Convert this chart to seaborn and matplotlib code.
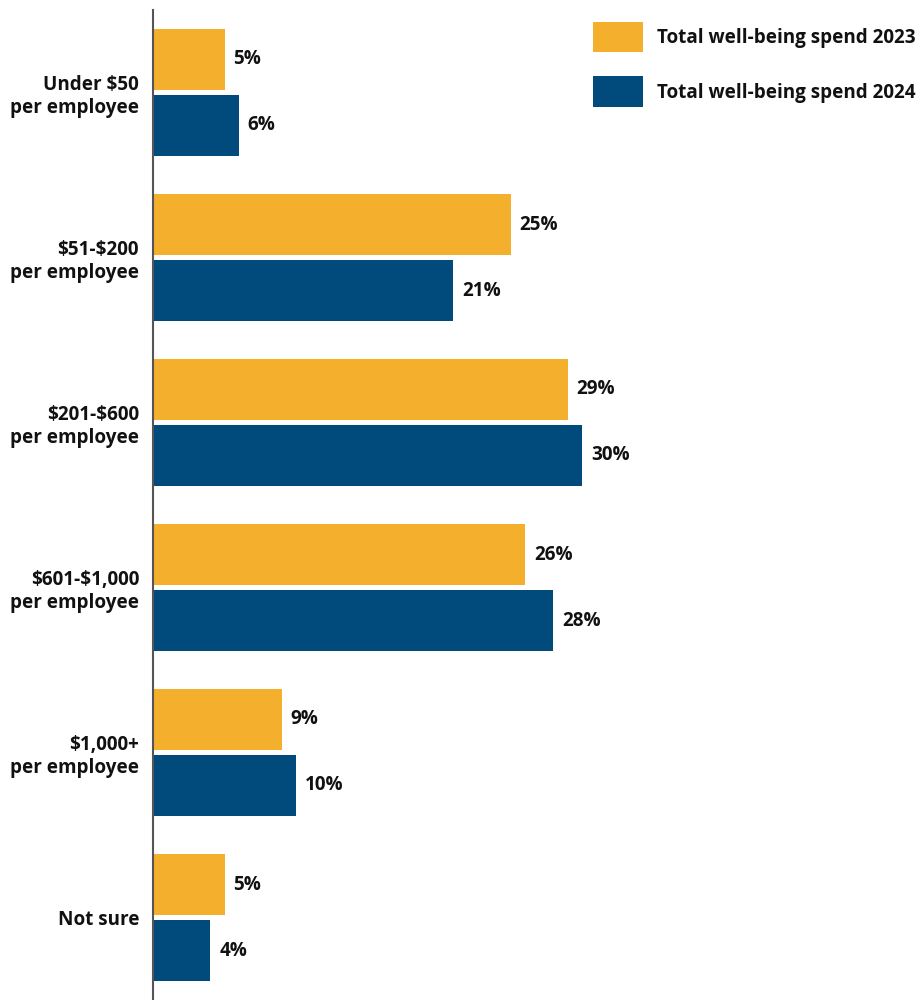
import pandas as pd
import matplotlib.pyplot as plt
import seaborn as sns
from matplotlib.patches import Patch

# ===================== DATA =====================
categories = [
    "Under $50\nper employee",
    "$51-$200\nper employee",
    "$201-$600\nper employee",
    "$601-$1,000\nper employee",
    "$1,000+\nper employee",
    "Not sure",
]
spend_2023 = [5, 25, 29, 26, 9, 5]
spend_2024 = [6, 21, 30, 28, 10, 4]
series_names = ["Total well-being spend 2023", "Total well-being spend 2024"]
colors = ["#F4AF2D", "#004A7C"]

df = pd.DataFrame({
    "category": categories * 2,
    "value": spend_2023 + spend_2024,
    "series": [series_names[0]] * len(categories) + [series_names[1]] * len(categories),
})

# ===================== STYLE =====================
sns.set_style("white")
plt.rcParams["font.family"] = ["Open Sans", "DejaVu Sans"]
plt.rcParams["font.weight"] = "bold"
plt.rcParams["text.parse_math"] = False

FS = 13.6

fig = plt.figure(figsize=(9.19, 10), dpi=100)
ax = fig.add_axes([153 / 919, 0.0, 766 / 919, 0.99])

sns.barplot(
    data=df, y="category", x="value", hue="series",
    palette=colors, orient="h", width=0.8, gap=0.09,
    saturation=1, legend=False, linewidth=0, ax=ax,
)

# value labels (padding in points)
for container in ax.containers:
    ax.bar_label(container, labels=[f"{v:.0f}%" for v in container.datavalues],
                 padding=6.5, fontsize=FS, fontweight="bold", color="#111111")

ax.set_xlim(0, 766 / 14.3)
ax.set_ylim(5.5, -0.5)
ax.set_xlabel("")
ax.set_ylabel("")
ax.set_xticks([])
ax.tick_params(axis="y", length=0, pad=10, labelsize=FS)
for lbl in ax.get_yticklabels():
    lbl.set_fontweight("bold")
    lbl.set_color("#111111")
    lbl.set_multialignment("right")

for side in ["top", "right", "bottom"]:
    ax.spines[side].set_visible(False)
ax.spines["left"].set_color("#555555")
ax.spines["left"].set_linewidth(1.5)

# ===================== LEGEND =====================
handles = [Patch(facecolor=c, edgecolor="none") for c in colors]
fig.legend(
    handles, series_names, loc="upper left",
    bbox_to_anchor=(593 / 919, 1 - 22 / 1000), frameon=False,
    borderpad=0, borderaxespad=0, handlelength=2.65, handleheight=2.1,
    handletextpad=0.74, labelspacing=1.27,
    prop={"size": FS, "weight": "bold"}, labelcolor="#111111",
)

plt.savefig("out.png", dpi=100)
